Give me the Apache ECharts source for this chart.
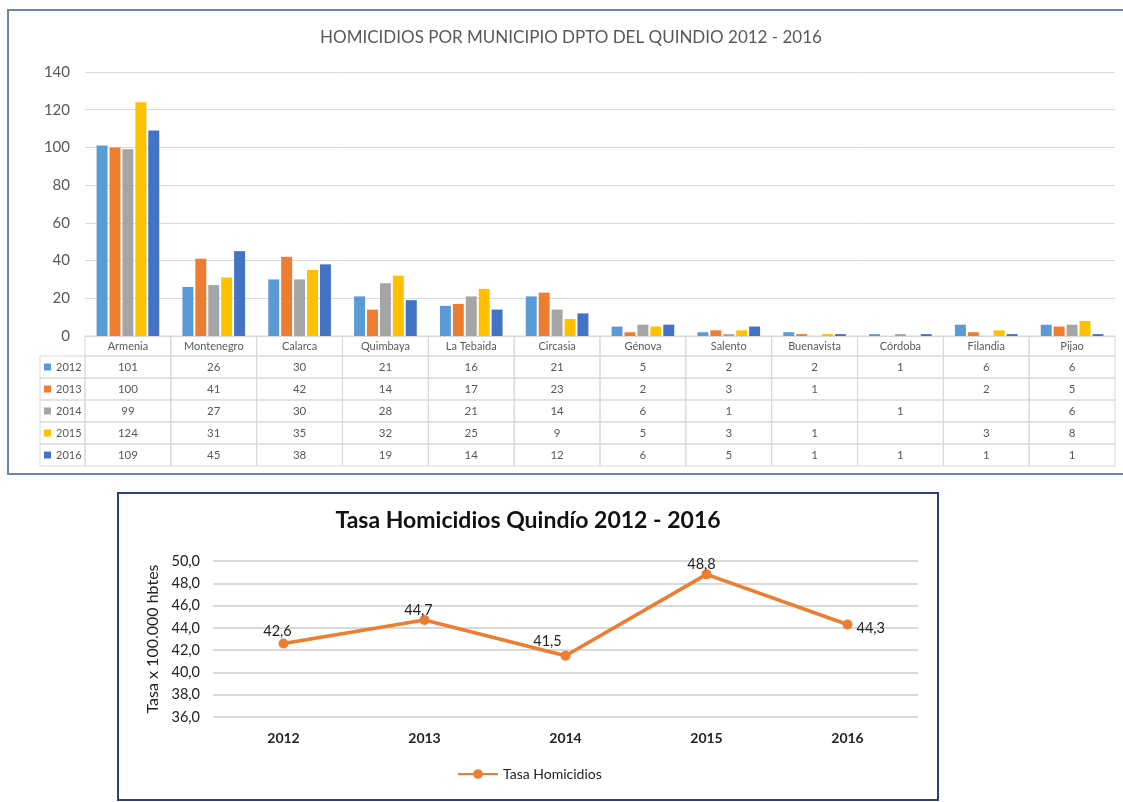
<!DOCTYPE html>
<html>
<head>
<meta charset="utf-8">
<script src="https://cdn.jsdelivr.net/npm/echarts@6/dist/echarts.min.js"></script>
<style>
  html, body { margin: 0; padding: 0; background: #fff; }
  #main { width: 1123px; height: 802px; }
</style>
</head>
<body>
<div id="main"></div>
<script type="text/javascript">
// datos de la tabla de homicidios por municipio
var municipios = ['Armenia', 'Montenegro', 'Calarca', 'Quimbaya', 'La Tebaida', 'Circasia',
                  'Génova', 'Salento', 'Buenavista', 'Córdoba', 'Filandia', 'Pijao'];
var anios = ['2012', '2013', '2014', '2015', '2016'];
var h2012 = [101, 26, 30, 21, 16, 21, 5, 2, 2, 1, 6, 6];
var h2013 = [100, 41, 42, 14, 17, 23, 2, 3, 1, null, 2, 5];
var h2014 = [99, 27, 30, 28, 21, 14, 6, 1, null, 1, null, 6];
var h2015 = [124, 31, 35, 32, 25, 9, 5, 3, 1, null, 3, 8];
var h2016 = [109, 45, 38, 19, 14, 12, 6, 5, 1, 1, 1, 1];
var colores = ['#5b9bd5', '#ed7d31', '#a5a5a5', '#ffc000', '#4472c4'];

// tasa por 100.000 habitantes
var tasaAnios = ['2012', '2013', '2014', '2015', '2016'];
var tasa = [42.6, 44.7, 41.5, 48.8, 44.3];
var tasaTicks = [36, 38, 40, 42, 44, 46, 48, 50];

var filas = [h2012, h2013, h2014, h2015, h2016];
var fuente = 'Lato, "Open Sans", sans-serif';

var myChart = echarts.init(document.getElementById('main'));

// series de barras, una por año
var barras = anios.map(function (a, i) {
  return {
    name: a,
    type: 'bar',
    xAxisIndex: 0,
    yAxisIndex: 0,
    data: filas[i],
    barGap: '18%',
    barCategoryGap: '27%',
    itemStyle: { color: colores[i] }
  };
});

// bordes de la columna de leyenda de la tabla
var bordesLeyenda = [];
for (var r = 0; r < 5; r++) {
  bordesLeyenda.push({
    type: 'rect',
    shape: { x: 40, y: 356 + r * 22, width: 45, height: 22 },
    style: { fill: 'none', stroke: '#d9d9d9', lineWidth: 1 },
    silent: true
  });
}

var option = {
  backgroundColor: '#ffffff',
  textStyle: { fontFamily: fuente },
  title: [{
    text: 'HOMICIDIOS POR MUNICIPIO DPTO DEL QUINDIO 2012 - 2016',
    left: 571, top: 29, textAlign: 'center', padding: 0,
    textStyle: { fontSize: 17, fontWeight: 'normal', color: '#595959', fontFamily: fuente }
  }, {
    text: 'Tasa Homicidios Quindío 2012 - 2016',
    left: 528, top: 509, textAlign: 'center', padding: 0,
    textStyle: { fontSize: 23, fontWeight: 'bold', color: '#111', fontFamily: fuente }
  }],
  legend: [{
    data: anios,
    orient: 'vertical',
    left: 44, top: 356, padding: 0,
    itemWidth: 7, itemHeight: 7, itemGap: 0,
    icon: 'rect',
    textStyle: { fontSize: 11, color: '#595959', lineHeight: 22 }
  }, {
    data: ['Tasa Homicidios'],
    left: 457, top: 767, padding: 0,
    itemWidth: 40, itemHeight: 12,
    textStyle: { fontSize: 14, color: '#222' }
  }],
  grid: [
    { left: 85, top: 72, width: 1030, height: 264 },
    { left: 213, top: 561, width: 705, height: 156 }
  ],
  xAxis: [{
    type: 'category',
    gridIndex: 0,
    data: municipios,
    axisLine: { lineStyle: { color: '#d9d9d9' } },
    axisTick: { show: false },
    axisLabel: {
      interval: 0,
      margin: 0,
      formatter: function (v, idx) {
        var s = '{h|' + v + '}';
        filas.forEach(function (f) {
          s += '\n{c|' + (f[idx] == null ? ' ' : f[idx]) + '}';
        });
        return s;
      },
      rich: {
        h: { width: 86, height: 20, align: 'center', fontSize: 11, color: '#595959',
             borderColor: '#d9d9d9', borderWidth: 1, fontFamily: fuente },
        c: { width: 86, height: 22, align: 'center', fontSize: 11.5, color: '#595959',
             borderColor: '#d9d9d9', borderWidth: 1, fontFamily: fuente }
      }
    }
  }, {
    type: 'category',
    gridIndex: 1,
    data: tasaAnios,
    axisLine: { show: false },
    axisTick: { show: false },
    axisLabel: { margin: 14, fontSize: 14, fontWeight: 'bold', color: '#222' }
  }],
  yAxis: [{
    type: 'value',
    gridIndex: 0,
    min: 0, max: 140, interval: 20,
    axisLine: { show: false },
    axisTick: { show: false },
    axisLabel: { fontSize: 15, color: '#595959', margin: 15 },
    splitLine: { lineStyle: { color: '#d9d9d9', width: 1 } }
  }, {
    type: 'value',
    gridIndex: 1,
    min: tasaTicks[0], max: tasaTicks[tasaTicks.length - 1], interval: 2,
    name: 'Tasa x 100.000 hbtes',
    nameLocation: 'middle',
    nameGap: 52,
    nameTextStyle: { fontSize: 16, color: '#222' },
    axisLine: { show: false },
    axisTick: { show: false },
    axisLabel: {
      fontSize: 14.5, color: '#222', margin: 13,
      formatter: function (v) { return v.toFixed(1).replace('.', ','); }
    },
    splitLine: { lineStyle: { color: '#d9d9d9', width: 2 } }
  }],
  series: barras.concat([{
    name: 'Tasa Homicidios',
    type: 'line',
    xAxisIndex: 1,
    yAxisIndex: 1,
    data: tasa.map(function (v, i) {
      var pos = ['top', 'top', 'top', 'top', 'right'][i];
      var off = [[-6, 4], [-6, 7], [-18, 2], [-5, 6], [0, 4]][i];
      return { value: v, label: { position: pos, offset: off } };
    }),
    symbol: 'circle',
    symbolSize: 10,
    lineStyle: { color: '#ed7d31', width: 3.5 },
    itemStyle: { color: '#ed7d31' },
    label: {
      show: true,
      fontSize: 14.5, color: '#222', distance: 4,
      formatter: function (p) { return p.value.toFixed(1).replace('.', ','); }
    }
  }]),
  graphic: bordesLeyenda.concat([{
    type: 'rect',
    shape: { x: 8, y: 10, width: 1125, height: 464 },
    style: { fill: 'none', stroke: '#7283a9', lineWidth: 2 },
    silent: true
  }, {
    type: 'rect',
    shape: { x: 118, y: 493, width: 820, height: 307 },
    style: { fill: 'none', stroke: '#2f3f7a', lineWidth: 2 },
    silent: true
  }])
};

myChart.setOption(option);
</script>
</body>
</html>
